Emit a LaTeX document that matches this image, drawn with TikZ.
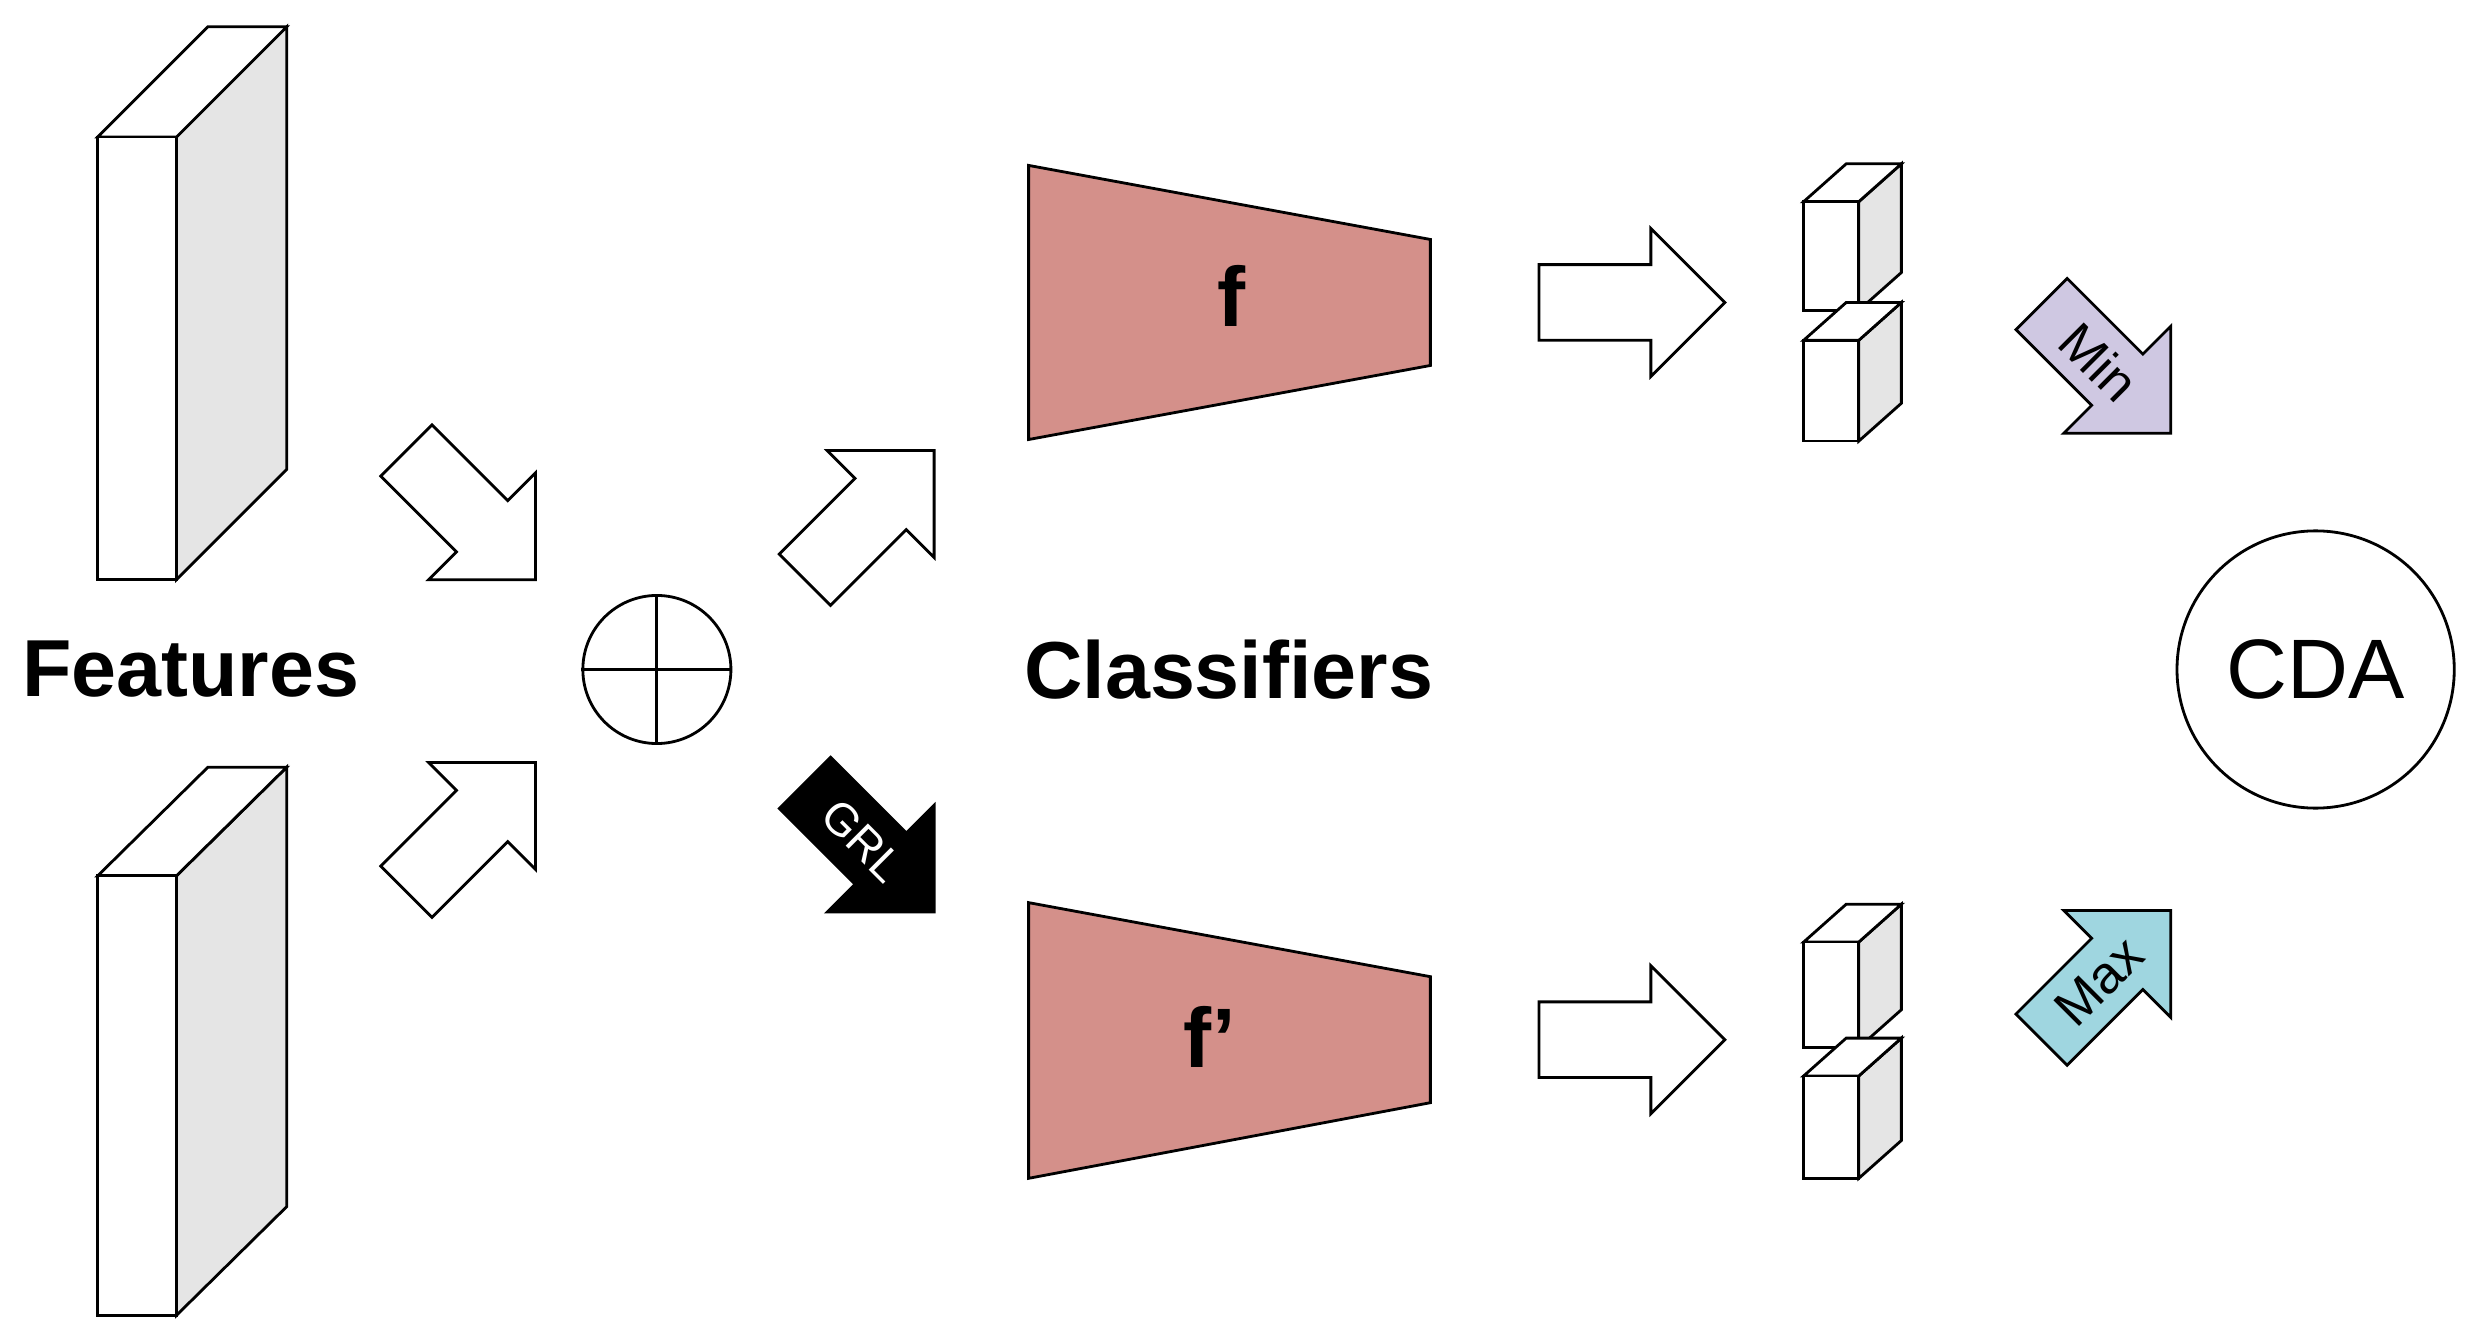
\documentclass[tikz,border=0pt]{standalone}
\usepackage{fontspec}
\setmainfont{Liberation Sans}
\begin{document}
\begin{tikzpicture}[x=0.01575cm,y=-0.01575cm,line width=0.8pt,line join=miter,
  lbl/.style={font=\fontsize{23}{27}\selectfont\bfseries},
  side/.style={fill=gray!20,draw=black},
  trap/.style={fill=salmonfill,draw=black}]
\definecolor{salmonfill}{HTML}{D4908A}
\definecolor{minfill}{HTML}{CFC8E2}
\definecolor{maxfill}{HTML}{9FD6E0}
\useasboundingbox (0,0) rectangle (1568,852);
\newcommand\blkarrow[6]{%
  \begin{scope}[shift={#1},rotate=#2]
    \draw[#6] (0,0) -- (-#5,-#5) -- (-#5,-#4) -- (-#3,-#4) -- (-#3,#4) -- (-#5,#4) -- (-#5,#5) -- cycle;
  \end{scope}}
\newcommand\cuboid[6]{%
  \draw[side] (#1+#3,#2) -- ++(#5,-#6) -- ++(0,#4) -- (#1+#3,#2+#4) -- cycle;
  \draw[fill=white] (#1,#2) -- ++(#5,-#6) -- ++(#3,0) -- (#1+#3,#2) -- cycle;
  \draw[fill=white] (#1,#2) rectangle ++(#3,#4);}
% features
\cuboid{62}{87}{50}{281}{70}{70}
\cuboid{62}{556}{50}{279}{70}{69}
\node[lbl] (feat) at (121,425) {Features};
% arrows into plus
\blkarrow{(340,368)}{-45}{116}{23}{48}{fill=white}
\blkarrow{(340,484)}{45}{116}{23}{48}{fill=white}
% plus
\node[circle,draw,minimum size=94*0.01575cm,inner sep=0] (plus) at (417,425) {};
\draw (plus.north) -- (plus.south) (plus.west) -- (plus.east);
% arrows out
\blkarrow{(593,286)}{45}{116}{23}{48}{fill=white}
\blkarrow{(593,579)}{-45}{116}{23}{48}{fill=black}
\begin{scope}[shift={(593,579)},rotate=-45]
  \node[rotate=-45,text=white,font=\fontsize{13}{15}\selectfont] (grl) at (-64,0) {GRL};
\end{scope}
% classifiers
\draw[trap] (653,105) -- (908,152) -- (908,232) -- (653,279) -- cycle;
\draw[trap] (653,573) -- (908,620) -- (908,700) -- (653,748) -- cycle;
\node[font=\fontsize{24}{28}\selectfont\bfseries] (f) at (782,188) {f};
\node[font=\fontsize{24}{28}\selectfont\bfseries] (fp) at (768,658) {f’};
\node[lbl] (cls) at (780,425) {Classifiers};
% horizontal arrows
\blkarrow{(1095,192)}{0}{118}{24}{47}{fill=white}
\blkarrow{(1095,660)}{0}{118}{24}{47}{fill=white}
% outputs
\cuboid{1145}{128}{35}{69}{27}{24}
\cuboid{1145}{216}{35}{64}{27}{24}
\cuboid{1145}{598}{35}{67}{27}{24}
\cuboid{1145}{683}{35}{65}{27}{24}
% min / max
\blkarrow{(1378,275)}{-45}{116}{23}{48}{fill=minfill}
\begin{scope}[shift={(1378,275)},rotate=-45]
  \node[rotate=-45,font=\fontsize{15}{17}\selectfont] (mint) at (-64,0) {Min};
\end{scope}
\blkarrow{(1378,578)}{45}{116}{23}{48}{fill=maxfill}
\begin{scope}[shift={(1378,578)},rotate=45]
  \node[rotate=45,font=\fontsize{15}{17}\selectfont] (maxt) at (-64,0) {Max};
\end{scope}
% CDA
\node[circle,draw,minimum size=176*0.01575cm,inner sep=0,font=\fontsize{24}{28}\selectfont] (cda) at (1470,425) {CDA};
\end{tikzpicture}
\end{document}
